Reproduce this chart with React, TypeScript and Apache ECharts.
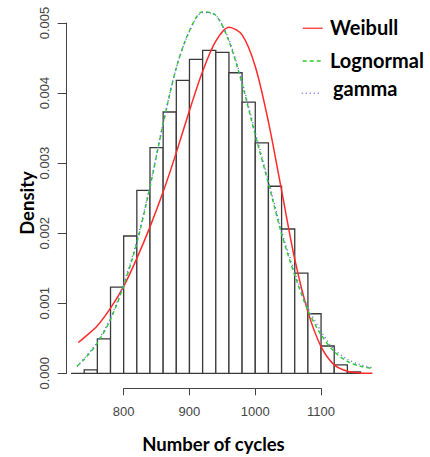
import React, { useEffect, useRef } from "react";
import * as echarts from "echarts";

// Histogram breaks (number of cycles) and bin densities
const breaks = [720, 740, 760, 780, 800, 820, 840, 860, 880, 900, 920, 940, 960, 980, 1000, 1020, 1040, 1060, 1080, 1100, 1120, 1140, 1160];
const binDensity = [0, 0.00005, 0.00049, 0.00123, 0.00196, 0.00261, 0.00322, 0.00373, 0.00418, 0.00448, 0.00461, 0.00458, 0.00429, 0.00387, 0.00329, 0.00267, 0.00206, 0.00143, 0.00085, 0.00039, 0.00012, 0.00002];

// Fitted density curves
const weibullX = [731, 740, 760, 780, 800, 820, 840, 860, 880, 900, 920, 940, 960, 980, 1000, 1020, 1040, 1060, 1080, 1100, 1120, 1140, 1160, 1178];
const weibullY = [0.00044, 0.00051, 0.00068, 0.00093, 0.00124, 0.00164, 0.00209, 0.00259, 0.00315, 0.00375, 0.00431, 0.00474, 0.00494, 0.00483, 0.00438, 0.00359, 0.00261, 0.00163, 0.00088, 0.00038, 0.00012, 0.00003, 0.000005, 0];

const lognormalX = [729, 740, 760, 780, 800, 820, 840, 860, 880, 900, 920, 940, 960, 980, 1000, 1020, 1040, 1060, 1080, 1100, 1120, 1140, 1160, 1177];
const lognormalY = [0.0001, 0.0002, 0.00043, 0.00077, 0.00125, 0.00186, 0.00266, 0.00356, 0.00436, 0.00489, 0.00516, 0.00511, 0.00474, 0.00413, 0.0034, 0.00271, 0.00199, 0.0014, 0.0009, 0.00055, 0.00031, 0.00017, 0.0001, 0.00007];

const gammaX = [729, 740, 760, 780, 800, 820, 840, 860, 880, 900, 920, 940, 960, 980, 1000, 1020, 1040, 1060, 1080, 1100, 1120, 1140, 1160, 1177];
const gammaY = [0.0001, 0.00021, 0.00045, 0.00079, 0.00128, 0.00189, 0.00268, 0.00357, 0.00436, 0.00488, 0.00515, 0.00511, 0.00476, 0.00416, 0.00344, 0.00275, 0.00203, 0.00145, 0.00094, 0.0006, 0.00034, 0.0002, 0.00012, 0.00008];

const yTicks = { min: 0, max: 0.005, step: 0.001 };
const xTicks = { min: 800, max: 1100, step: 100 };

const legendItems = ["Weibull", "Lognormal", "gamma"];

export default function App() {
  const ref = useRef<HTMLDivElement>(null);
  useEffect(() => {
    if (!ref.current) return;
    const chart = echarts.init(ref.current, undefined, { renderer: "svg" });
    const axisColor = "#444";
    const tickFont = "Liberation Sans";
    const titleFont = "Lato";
    const histData = binDensity.map((d, i) => [breaks[i], breaks[i + 1], d]);
    const option: any = {
      animation: false,
      backgroundColor: "#fff",
      grid: [
        { left: 66.7, top: 23, width: 307, height: 350.3 },
        { left: 123.7, top: 370, width: 197.3, height: 18.3 },
      ],
      xAxis: [
        { gridIndex: 0, type: "value", min: 713.4, max: 1180, show: false },
        {
          gridIndex: 1, type: "value", min: xTicks.min, max: xTicks.max, interval: xTicks.step,
          position: "bottom",
          axisLine: { show: true, lineStyle: { color: axisColor, width: 1 } },
          axisTick: { show: true, length: 7, lineStyle: { color: axisColor } },
          splitLine: { show: false },
          axisLabel: { fontSize: 13, color: axisColor, fontFamily: tickFont, margin: 17, formatter: (v: number) => String(v) },
        },
      ],
      yAxis: [
        {
          gridIndex: 0, type: "value", min: yTicks.min, max: yTicks.max, interval: yTicks.step,
          axisLine: { show: true, lineStyle: { color: axisColor, width: 1 } },
          axisTick: { show: true, length: 9, lineStyle: { color: axisColor } },
          splitLine: { show: false },
          axisLabel: {
            rotate: 90, margin: 16, fontSize: 13, color: axisColor, fontFamily: tickFont,
            formatter: (v: number) => v.toFixed(3),
          },
        },
        { gridIndex: 1, type: "value", show: false },
      ],
      series: [
        {
          type: "custom",
          xAxisIndex: 0, yAxisIndex: 0,
          data: histData,
          encode: { x: [0, 1], y: 2 },
          renderItem: (params: any, api: any) => {
            const p0 = api.coord([api.value(0), api.value(2)]);
            const p1 = api.coord([api.value(1), 0]);
            return {
              type: "rect",
              shape: { x: p0[0], y: p0[1], width: p1[0] - p0[0], height: p1[1] - p0[1] },
              style: { fill: "#fff", stroke: "#3a3a3a", lineWidth: 1.3 },
            };
          },
          z: 1,
        },
        {
          name: "Weibull", type: "line", xAxisIndex: 0, yAxisIndex: 0,
          data: weibullX.map((x, i) => [x, weibullY[i]]),
          smooth: 0.3, showSymbol: false, clip: false,
          lineStyle: { color: "#ff2a2a", width: 1.5 }, z: 3,
        },
        {
          name: "Lognormal", type: "line", xAxisIndex: 0, yAxisIndex: 0,
          data: lognormalX.map((x, i) => [x, lognormalY[i]]),
          smooth: 0.3, showSymbol: false, clip: false,
          lineStyle: { color: "#2ecc2e", width: 1.5, type: [4, 3] }, z: 4,
        },
        {
          name: "gamma", type: "line", xAxisIndex: 0, yAxisIndex: 0,
          data: gammaX.map((x, i) => [x, gammaY[i]]),
          smooth: 0.3, showSymbol: false, clip: false,
          lineStyle: { color: "#6a6aff", width: 1.4, type: [1, 3] }, z: 5,
        },
      ],
      graphic: [
        { type: "line", shape: { x1: 302.7, y1: 28.3, x2: 322.7, y2: 28.3 }, style: { stroke: "#ff4a4a", lineWidth: 1.5 } },
        { type: "line", shape: { x1: 302.7, y1: 61, x2: 322.7, y2: 61 }, style: { stroke: "#2ecc2e", lineWidth: 1.5, lineDash: [4, 3] } },
        { type: "line", shape: { x1: 301.7, y1: 93.3, x2: 321, y2: 93.3 }, style: { stroke: "#6a6aff", lineWidth: 1.4, lineDash: [1, 3] } },
        { type: "text", x: 330, y: 27.2, style: { text: legendItems[0], font: `bold 20px ${titleFont}`, fill: "#000", textVerticalAlign: "middle" } },
        { type: "text", x: 330, y: 59.9, style: { text: legendItems[1], font: `bold 20px ${titleFont}`, fill: "#000", textVerticalAlign: "middle" } },
        { type: "text", x: 333, y: 88.2, style: { text: legendItems[2], font: `bold 20px ${titleFont}`, fill: "#000", textVerticalAlign: "middle" } },
        { type: "text", x: 213.5, y: 443.5, style: { text: "Number of cycles", font: `bold 18.5px ${titleFont}`, fill: "#000", textAlign: "center", textVerticalAlign: "middle" } },
        { type: "text", x: 26.5, y: 203, rotation: Math.PI / 2, style: { text: "Density", font: `bold 18.5px ${titleFont}`, fill: "#000", textAlign: "center", textVerticalAlign: "middle" } },
      ],
    };
    chart.setOption(option);
    return () => chart.dispose();
  }, []);
  return (
    <div style={{ position: "absolute", left: 0, top: 0, width: 430, height: 457, background: "#fff" }}>
      <div ref={ref} style={{ width: 430, height: 457 }} />
    </div>
  );
}
